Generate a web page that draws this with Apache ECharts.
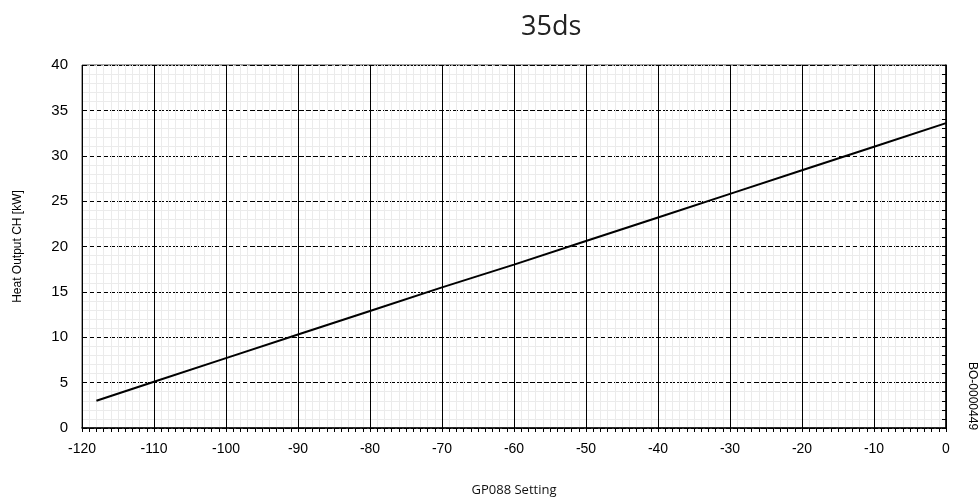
<!DOCTYPE html>
<html><head><meta charset="utf-8">
<script src="https://cdn.jsdelivr.net/npm/echarts@6/dist/echarts.min.js"></script>
<style>html,body{margin:0;padding:0;background:#fff}#c{width:978px;height:497px}</style>
</head><body><div id="c"></div>
<script>
const settings = [-118, -110, -100, -90, -80, -70, -60, -50, -40, -30, -20, -10, 0];
const heatOutput = [3.0, 5.1, 7.7, 10.3, 12.9, 15.5, 18.0, 20.6, 23.2, 25.8, 28.4, 31.0, 33.6];
const titleText = '35ds';
const xName = 'GP088 Setting';
const yName = 'Heat Output CH [kW]';
const docCode = 'BO-0000449';

const chart = echarts.init(document.getElementById('c'));
chart.setOption({
  animation: false,
  backgroundColor: '#fff',
  title: { text: titleText, left: 516, top: 9, textStyle: { fontFamily: 'Open Sans', fontSize: 27, fontWeight: 'normal', color: '#222' } },
  grid: { left: 82, right: 32, top: 65, bottom: 69, containLabel: false, outerBoundsMode: 'none', show: true, borderColor: '#444', borderWidth: 1 },
  xAxis: {
    type: 'value', min: -120, max: 0, interval: 10,
    name: xName, nameLocation: 'middle', nameGap: 56,
    nameTextStyle: { fontFamily: 'Open Sans', fontSize: 13, color: '#111' },
    axisLine: { show: true, onZero: false, lineStyle: { color: '#000', width: 1.5 } },
    axisTick: { show: true, length: 4, lineStyle: { color: '#000' } },
    minorTick: { show: true, splitNumber: 10, length: 4, lineStyle: { color: '#000' } },
    axisLabel: { fontFamily: 'Liberation Sans', fontSize: 14, color: '#000', margin: 14 },
    splitLine: { show: true, lineStyle: { color: '#000', width: 1 } },
    minorSplitLine: { show: true, lineStyle: { color: '#ebebeb', width: 1 } }
  },
  yAxis: {
    type: 'value', min: 0, max: 40, interval: 5,
    name: yName, nameLocation: 'middle', nameGap: 58,
    nameTextStyle: { fontFamily: 'Liberation Sans', fontSize: 12, color: '#000' },
    axisLine: { show: true, lineStyle: { color: '#000', width: 1.5 } },
    axisTick: { show: true, length: 4, lineStyle: { color: '#000' } },
    minorTick: { show: true, splitNumber: 5, length: 4, lineStyle: { color: '#000' } },
    axisLabel: { fontFamily: 'Liberation Sans', fontSize: 15, color: '#000', margin: 14 },
    splitLine: { show: true, lineStyle: { color: '#000', width: 1, type: [5, 2] } },
    minorSplitLine: { show: true, lineStyle: { color: '#ebebeb', width: 1 } }
  },
  graphic: [{
    type: 'text', left: 966, top: 362, rotation: -Math.PI / 2,
    style: { text: docCode, fontFamily: 'Liberation Sans', fontSize: 12, fill: '#000' }
  }],
  series: [{
    type: 'line', symbol: 'none', data: settings.map((s, i) => [s, heatOutput[i]]),
    lineStyle: { color: '#000', width: 2 }, z: 5
  }]
});
</script></body></html>
